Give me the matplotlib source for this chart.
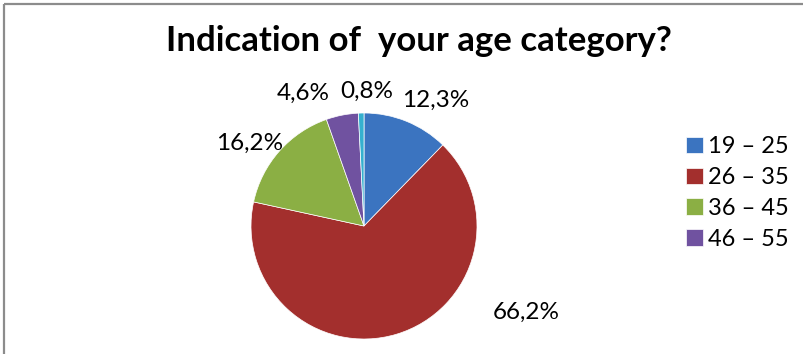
import matplotlib
matplotlib.use("Agg")
import matplotlib.pyplot as plt
import numpy as np

# Survey answers: share of respondents per age band (percent)
categories = ["19 – 25", "26 – 35", "36 – 45", "46 – 55", "56 +"]
shares = [12.3, 66.2, 16.2, 4.6, 0.8]
colors = ["#3B74C0", "#A32F2D", "#8BAF44", "#7052A0", "#35B0CF"]
legend_count = 4  # the last (smallest) band is left out of the legend

title = "Indication of  your age category?"

W, H = 804, 354
fig = plt.figure(figsize=(W / 100, H / 100), dpi=100)
ax = fig.add_axes([0, 0, 1, 1])

font = "Lato"

cx, cy, r = 364, H - 226, 113
wedges, _ = ax.pie(shares, colors=colors, startangle=90, counterclock=False,
                   center=(cx, cy), radius=r,
                   wedgeprops=dict(linewidth=0.5, edgecolor="white"))

ax.set_xlim(0, W)
ax.set_ylim(0, H)
ax.set_aspect("equal")
ax.axis("off")

# chart frame (top and left edges visible)
ax.plot([4, W], [H - 4, H - 4], color="#8c8c8c", lw=1.6, solid_capstyle="butt")
ax.plot([4, 4], [0, H - 4], color="#8c8c8c", lw=1.6, solid_capstyle="butt")

# label placement: (radial distance factor, angle in degrees)
label_pos = [(1.28, 60.5), (1.63, -28.1), (1.25, 144.0), (1.29, 114.6), (1.195, 88.7)]
for val, (f, ang) in zip(shares, label_pos):
    a = np.deg2rad(ang)
    ax.text(cx + f * r * np.cos(a), cy + f * r * np.sin(a),
            f"{val:.1f}%".replace(".", ","), ha="center", va="center",
            fontsize=17.5, family=font)

ax.text(419, H - 41, title, ha="center", va="center", fontsize=25,
        fontweight="bold", family=font)

leg = ax.legend(wedges[:legend_count], categories[:legend_count],
                loc="center left", bbox_to_anchor=(686 / W, 1 - 193 / H),
                frameon=False, prop=dict(family=font, size=17),
                handlelength=0.7, handleheight=0.7, handletextpad=0.25,
                labelspacing=0.42, borderaxespad=0, borderpad=0)

fig.savefig("out.png", dpi=100)
